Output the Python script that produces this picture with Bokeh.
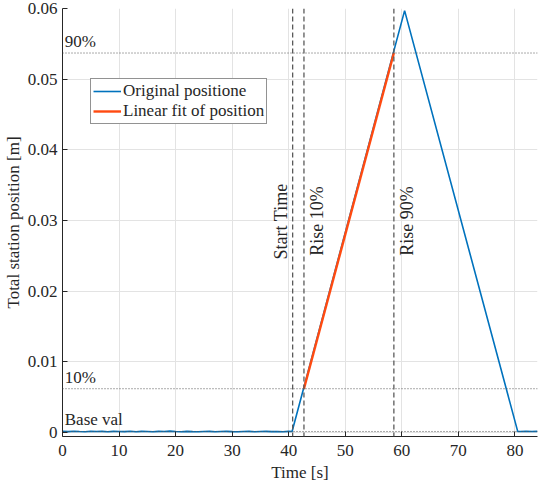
import math
from bokeh.plotting import figure
from bokeh.models import Span, FixedTicker, CustomJSTickFormatter
from bokeh.core.properties import value
from bokeh.embed import file_html
from bokeh.resources import INLINE

# Original position (baseline noise + triangle)
time_s = [0, 1, 2, 3, 4, 5, 6, 7, 8, 9, 10, 11, 12, 13, 14, 15, 16, 17, 18, 19,
          20, 21, 22, 23, 24, 25, 26, 27, 28, 29, 30, 31, 32, 33, 34, 35, 36, 37,
          38, 39, 40, 40.6, 60.5, 80.5, 81, 82, 83, 84]
position_m = [0.00017, 0.00013, 0.00019, 0.00015, 0.00012, 0.00018, 0.00014, 0.00016,
              0.00011, 0.00017, 0.00015, 0.00013, 0.00018, 0.00012, 0.00016, 0.00014,
              0.00011, 0.00017, 0.00015, 0.00020, 0.00014, 0.00012, 0.00016, 0.00013,
              0.00011, 0.00015, 0.00017, 0.00012, 0.00014, 0.00016, 0.00013, 0.00011,
              0.00015, 0.00017, 0.00012, 0.00014, 0.00016, 0.00013, 0.00015, 0.00012,
              0.00016, 0.00015, 0.0597, 0.00017, 0.00015, 0.00018, 0.00014, 0.00016]

# Linear fit between 10% and 90% rise
fit_time = [42.7, 58.6]
fit_pos = [0.0062, 0.0537]

# Markers
start_time = 40.7
rise10_time = 42.7
rise90_time = 58.6
base_val = 0.00015
level10 = 0.0062
level90 = 0.0537

x_ticks = [0, 10, 20, 30, 40, 50, 60, 70, 80]
y_ticks = [0, 0.01, 0.02, 0.03, 0.04, 0.05, 0.06]

FONT = "Liberation Serif"
BLUE = "#0072BD"
ORANGE = "#FF4A10"
INK = "#262626"

p = figure(width=540, height=484, x_range=(0, 84), y_range=(-0.00056, 0.06),
           output_backend="svg", toolbar_location=None,
           min_border_left=52, min_border_right=3, min_border_top=8, min_border_bottom=46)
p.outline_line_color = None
p.background_fill_color = "white"

p.xgrid.grid_line_color = "#e3e3e3"
p.ygrid.grid_line_color = "#e3e3e3"

p.axis.axis_line_color = INK
p.axis.major_tick_line_color = INK
p.axis.major_tick_in = 5
p.axis.major_tick_out = 0
p.axis.minor_tick_line_color = None
p.axis.major_label_text_font = FONT
p.axis.major_label_text_font_size = "17px"
p.axis.major_label_text_color = INK
p.axis.axis_label_text_font = FONT
p.axis.axis_label_text_font_size = "17px"
p.axis.axis_label_text_font_style = "normal"
p.axis.axis_label_text_color = INK

p.xaxis.ticker = FixedTicker(ticks=x_ticks)
p.yaxis.ticker = FixedTicker(ticks=y_ticks)
p.yaxis.formatter = CustomJSTickFormatter(code="return tick == 0 ? '0' : tick.toFixed(2);")
p.xaxis.axis_label = "Time [s]"
p.yaxis.axis_label = "Total station position [m]"
p.xaxis.major_label_standoff = 8
p.yaxis.major_label_standoff = 5
p.xaxis.axis_label_standoff = 4
p.yaxis.axis_label_standoff = 2

# horizontal dotted lines
for yv in (base_val, level10, level90):
    p.add_layout(Span(location=yv, dimension="width", line_color="#555555",
                      line_dash="1 2", line_width=1))
# vertical dashed lines
for xv in (start_time, rise10_time, rise90_time):
    p.add_layout(Span(location=xv, dimension="height", line_color="#5a5a5a",
                      line_dash="5 3", line_width=1.3))

p.line(time_s, position_m, line_color=BLUE, line_width=1.6, legend_label="Original positione")
p.line(fit_time, fit_pos, line_color=ORANGE, line_width=2.4, legend_label="Linear fit of position")

# level labels
p.text(x=[0.4, 0.4, 0.4], y=[level90, level10, base_val], text=["90%", "10%", "Base val"],
       text_font=value(FONT), text_font_size="17px", text_color=INK,
       text_baseline="bottom", y_offset=-2)

# rotated labels
p.text(x=[start_time], y=[0.0245], text=["Start Time"], angle=math.pi / 2,
       text_font=value(FONT), text_font_size="18px", text_color=INK,
       text_align="left", text_baseline="bottom", x_offset=-2)
p.text(x=[rise10_time, rise90_time], y=[0.025, 0.025], text=["Rise 10%", "Rise 90%"],
       angle=math.pi / 2, text_font=value(FONT), text_font_size="18px", text_color=INK,
       text_align="left", text_baseline="top", x_offset=3)

lg = p.legend[0]
lg.location = (28, 312)
lg.label_text_font = FONT
lg.label_text_font_size = "17px"
lg.label_text_color = INK
lg.border_line_color = INK
lg.border_line_width = 1
lg.glyph_width = 28
lg.glyph_height = 12
lg.label_height = 12
lg.label_standoff = 2
lg.spacing = -2
lg.padding = 2
lg.margin = 0
lg.background_fill_alpha = 1

open("out.html", "w").write(file_html(p, INLINE))
